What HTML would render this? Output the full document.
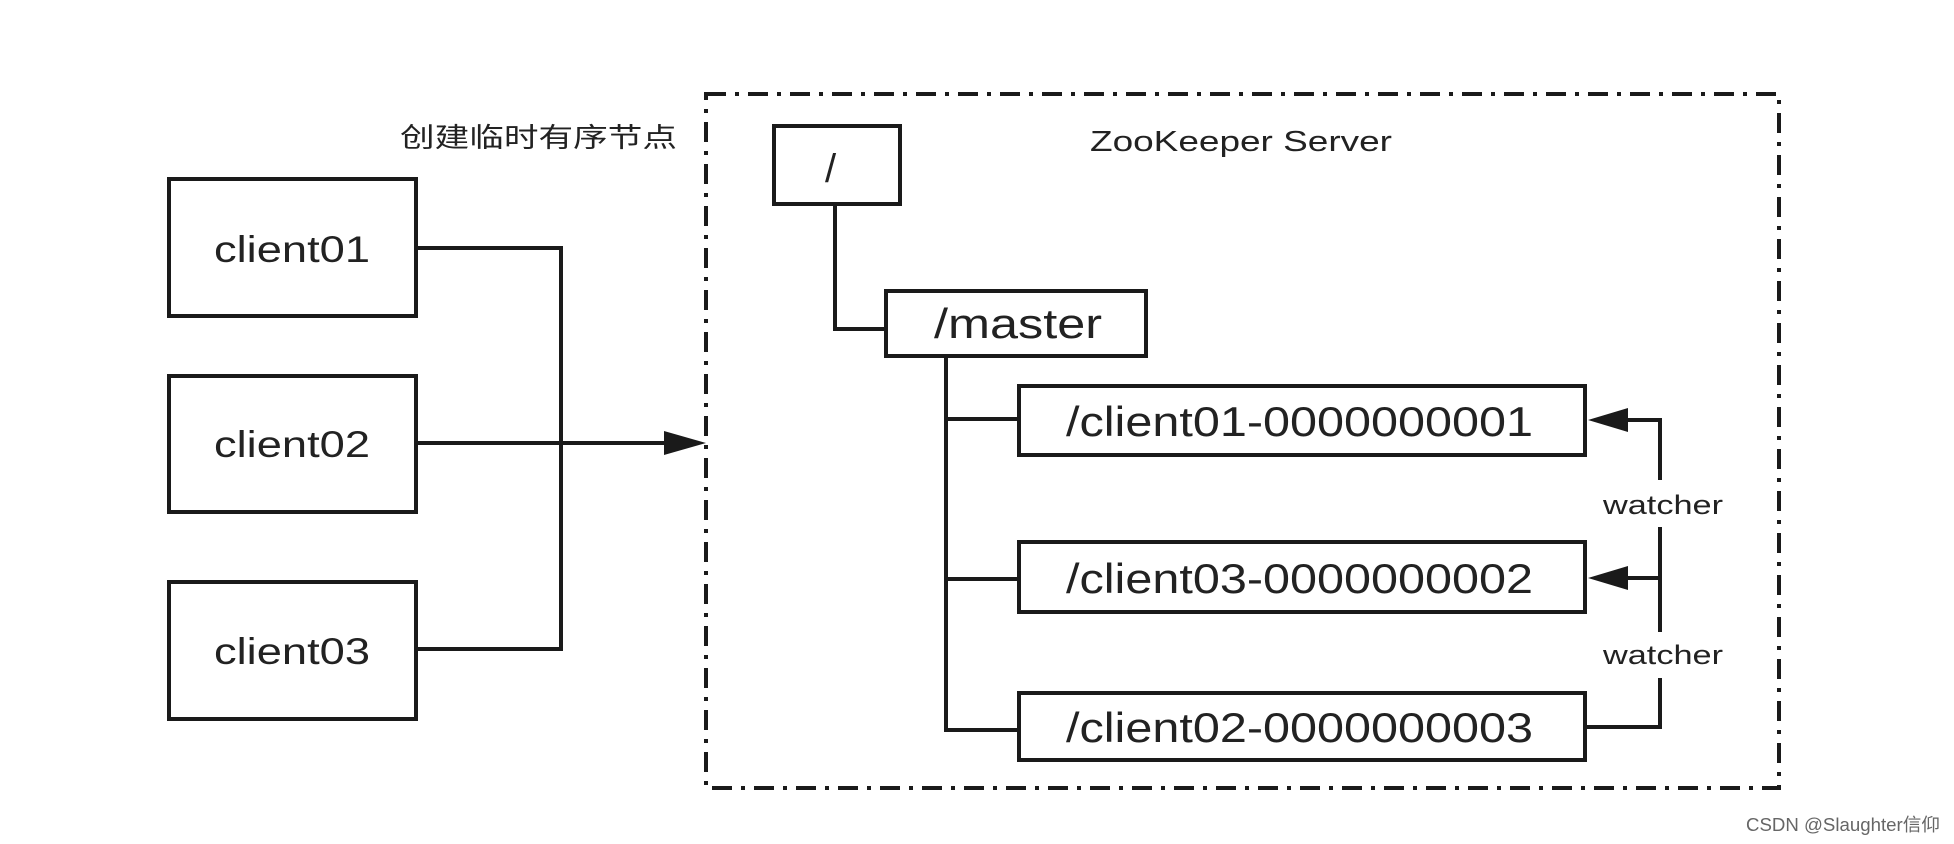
<!DOCTYPE html>
<html><head><meta charset="utf-8"><style>
html,body{margin:0;padding:0;background:#fff;}
svg{display:block;}
text{font-family:"Liberation Sans","Noto Sans CJK SC",sans-serif;fill:#222;}
</style></head><body>
<svg width="1954" height="844" viewBox="0 0 1954 844" xmlns="http://www.w3.org/2000/svg">
<g fill="none" stroke="#1a1a1a" stroke-width="4">
<rect x="706" y="94" width="1073" height="694" stroke-dasharray="20,9,4,9"/>
<rect x="169" y="179" width="247" height="137"/>
<rect x="169" y="376" width="247" height="136"/>
<rect x="169" y="582" width="247" height="137"/>
<polyline points="416,248 561,248 561,649 416,649"/>
<line x1="416" y1="443" x2="668" y2="443"/>
<rect x="774" y="126" width="126" height="78"/>
<polyline points="835,204 835,329 886,329"/>
<rect x="886" y="291" width="260" height="65"/>
<polyline points="946,356 946,730 1019,730"/>
<line x1="946" y1="419" x2="1019" y2="419"/>
<line x1="946" y1="579" x2="1019" y2="579"/>
<rect x="1019" y="386" width="566" height="69"/>
<rect x="1019" y="542" width="566" height="70"/>
<rect x="1019" y="693" width="566" height="67"/>
<polyline points="1620,420 1660,420 1660,480"/>
<line x1="1660" y1="527" x2="1660" y2="632"/>
<line x1="1620" y1="578" x2="1660" y2="578"/>
<polyline points="1585,727 1660,727 1660,678"/>
</g>
<g fill="#1a1a1a">
<polygon points="706,443 664,431 664,455"/>
<polygon points="1588,420 1628,408 1628,432"/>
<polygon points="1588,578 1628,566 1628,590"/>
</g>
<text x="400" y="147" font-size="27" textLength="277" lengthAdjust="spacingAndGlyphs">创建临时有序节点</text>
<text x="1090" y="151" font-size="29" textLength="302" lengthAdjust="spacingAndGlyphs">ZooKeeper Server</text>
<text x="214" y="262" font-size="37" textLength="156" lengthAdjust="spacingAndGlyphs">client01</text>
<text x="214" y="457" font-size="37" textLength="156" lengthAdjust="spacingAndGlyphs">client02</text>
<text x="214" y="664" font-size="37" textLength="156" lengthAdjust="spacingAndGlyphs">client03</text>
<text x="825" y="182" font-size="40">/</text>
<text x="934" y="338" font-size="42" textLength="168" lengthAdjust="spacingAndGlyphs">/master</text>
<text x="1066" y="436" font-size="42" textLength="467" lengthAdjust="spacingAndGlyphs">/client01-0000000001</text>
<text x="1066" y="593" font-size="42" textLength="467" lengthAdjust="spacingAndGlyphs">/client03-0000000002</text>
<text x="1066" y="742" font-size="42" textLength="467" lengthAdjust="spacingAndGlyphs">/client02-0000000003</text>
<text x="1603" y="514" font-size="27" textLength="120" lengthAdjust="spacingAndGlyphs">watcher</text>
<text x="1603" y="664" font-size="27" textLength="120" lengthAdjust="spacingAndGlyphs">watcher</text>
<text x="1746" y="831" font-size="18" textLength="194" lengthAdjust="spacingAndGlyphs" style="fill:#666">CSDN @Slaughter信仰</text>
</svg>
</body></html>
